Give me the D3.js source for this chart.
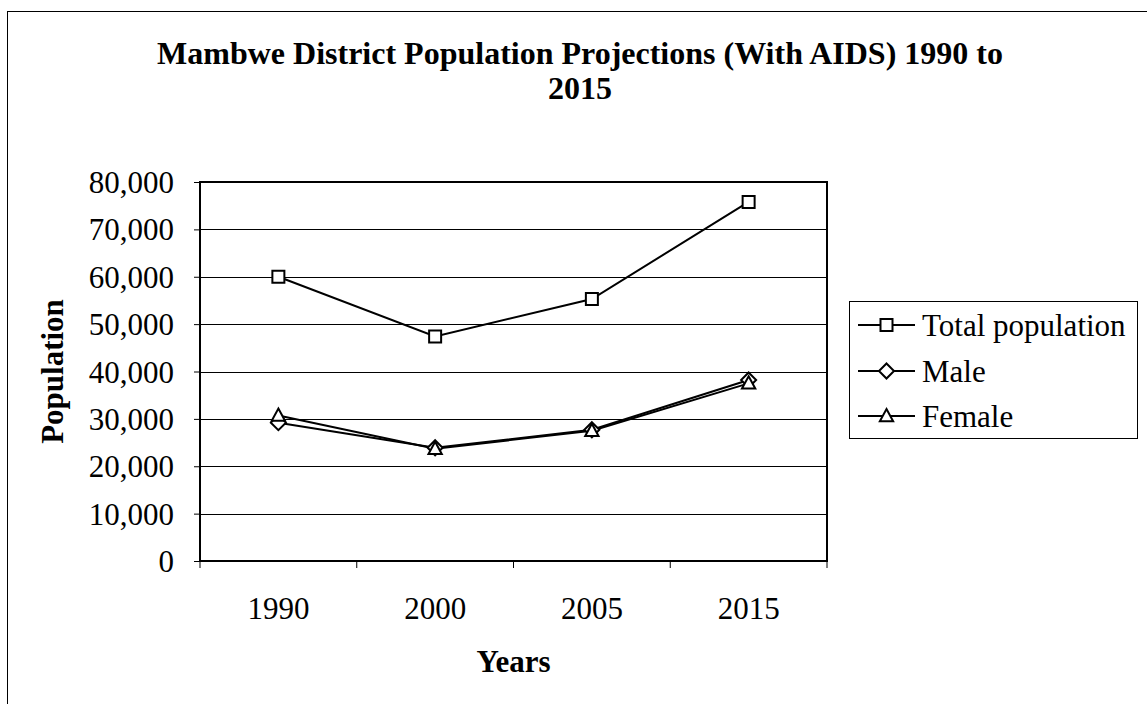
<!DOCTYPE html>
<html>
<head>
<meta charset="utf-8">
<script src="https://cdn.jsdelivr.net/npm/d3@7"></script>
<style>
  html, body { margin: 0; padding: 0; background: #fff; }
  svg { display: block; }
  text { font-family: "Liberation Serif", "Times New Roman", serif; fill: #000; }
</style>
</head>
<body>
<svg id="chart" width="1147" height="704"></svg>
<script>
const years = ["1990", "2000", "2005", "2015"];
const totalPopulation = [60000, 47400, 55300, 75800];
const male = [29200, 23900, 27700, 38200];
const female = [30700, 23700, 27500, 37500];
const yTicks = [0, 10000, 20000, 30000, 40000, 50000, 60000, 70000, 80000];
const seriesNames = ["Total population", "Male", "Female"];
const titleLines = ["Mambwe District Population Projections (With AIDS) 1990 to", "2015"];
const xTitle = "Years";
const yTitle = "Population";

const series = [
  { name: seriesNames[0], values: totalPopulation, marker: "square" },
  { name: seriesNames[1], values: male, marker: "diamond" },
  { name: seriesNames[2], values: female, marker: "triangle" }
];

const svg = d3.select("#chart");
const plot = { left: 200, right: 827, top: 182, bottom: 561 };

// outer frame
svg.append("rect")
  .attr("x", 7.5).attr("y", 11.5)
  .attr("width", 1200).attr("height", 800)
  .attr("fill", "none").attr("stroke", "#000").attr("stroke-width", 1);

const x = d3.scaleBand().domain(years).range([plot.left, plot.right]).padding(0);
const y = d3.scaleLinear().domain([0, 80000]).range([plot.bottom, plot.top]);

// gridlines
svg.append("g").selectAll("line").data(yTicks.filter(d => d > 0)).join("line")
  .attr("x1", plot.left).attr("x2", plot.right)
  .attr("y1", d => Math.round(y(d)) + 0.5).attr("y2", d => Math.round(y(d)) + 0.5)
  .attr("stroke", "#000").attr("stroke-width", 1);

// y axis
const yAxis = svg.append("g")
  .attr("transform", `translate(${plot.left},0)`)
  .call(d3.axisLeft(y).tickValues(yTicks).tickFormat(d3.format(",")).tickSize(6).tickPadding(20));
yAxis.select(".domain").remove();
yAxis.selectAll(".tick line").attr("stroke", "#000");
yAxis.selectAll(".tick text")
  .style("font-family", '"Liberation Serif", "Times New Roman", serif')
  .style("font-size", "31px").attr("fill", "#000").attr("dy", "0.34em");

// x axis labels
const xAxis = svg.append("g")
  .attr("transform", `translate(0,${plot.bottom})`)
  .call(d3.axisBottom(x).tickSize(0).tickPadding(36));
xAxis.select(".domain").remove();
xAxis.selectAll(".tick text")
  .style("font-family", '"Liberation Serif", "Times New Roman", serif')
  .style("font-size", "31px").attr("fill", "#000");

// x boundary ticks
const boundaries = years.map(d => x(d)).concat([x(years[years.length - 1]) + x.bandwidth()]);
svg.append("g").selectAll("line").data(boundaries).join("line")
  .attr("x1", d => d).attr("x2", d => d)
  .attr("y1", plot.bottom).attr("y2", plot.bottom + 7)
  .attr("stroke", "#000").attr("stroke-width", 1);

// plot frame
svg.append("rect")
  .attr("x", plot.left).attr("y", plot.top)
  .attr("width", plot.right - plot.left).attr("height", plot.bottom - plot.top)
  .attr("fill", "none").attr("stroke", "#000").attr("stroke-width", 2);

// markers
function markerPath(type, cx, cy) {
  if (type === "square") {
    const s = 6;
    return `M${cx - s},${cy - s}H${cx + s}V${cy + s}H${cx - s}Z`;
  } else if (type === "diamond") {
    const s = 7.5;
    return `M${cx},${cy - s}L${cx + s},${cy}L${cx},${cy + s}L${cx - s},${cy}Z`;
  } else {
    const s = 7;
    return `M${cx},${cy - s}L${cx + s * 0.95},${cy + s * 0.75}L${cx - s * 0.95},${cy + s * 0.75}Z`;
  }
}

const line = d3.line().x((d, i) => x(years[i]) + x.bandwidth() / 2).y(d => y(d));

series.forEach(s => {
  svg.append("path").datum(s.values)
    .attr("d", line).attr("fill", "none").attr("stroke", "#000").attr("stroke-width", 2);
});
series.forEach(s => {
  svg.append("g").selectAll("path").data(s.values).join("path")
    .attr("d", (d, i) => markerPath(s.marker, x(years[i]) + x.bandwidth() / 2, y(d)))
    .attr("fill", "#fff").attr("stroke", "#000").attr("stroke-width", 2);
});

// titles
const title = svg.append("text")
  .attr("text-anchor", "middle")
  .style("font-size", "32px").style("font-weight", "bold");
titleLines.forEach((t, i) => {
  title.append("tspan").attr("x", 580).attr("y", 64 + i * 35).text(t);
});

svg.append("text")
  .attr("x", (plot.left + plot.right) / 2).attr("y", 672)
  .attr("text-anchor", "middle")
  .style("font-size", "31px").style("font-weight", "bold")
  .text(xTitle);

svg.append("text")
  .attr("transform", `translate(63,${(plot.top + plot.bottom) / 2}) rotate(-90)`)
  .attr("text-anchor", "middle")
  .style("font-size", "31px").style("font-weight", "bold")
  .text(yTitle);

// legend
const legend = svg.append("g");
legend.append("rect")
  .attr("x", 849.5).attr("y", 301.5).attr("width", 288).attr("height", 137)
  .attr("fill", "#fff").attr("stroke", "#000").attr("stroke-width", 1);
const rowY = [325, 371, 416];
series.forEach((s, i) => {
  const cy = rowY[i];
  legend.append("line")
    .attr("x1", 858).attr("x2", 915).attr("y1", cy).attr("y2", cy)
    .attr("stroke", "#000").attr("stroke-width", 2);
  legend.append("path")
    .attr("d", markerPath(s.marker, 886.5, cy))
    .attr("fill", "#fff").attr("stroke", "#000").attr("stroke-width", 2);
  legend.append("text")
    .attr("x", 922).attr("y", cy + 10.5)
    .style("font-size", "31px")
    .text(s.name);
});
</script>
</body>
</html>
